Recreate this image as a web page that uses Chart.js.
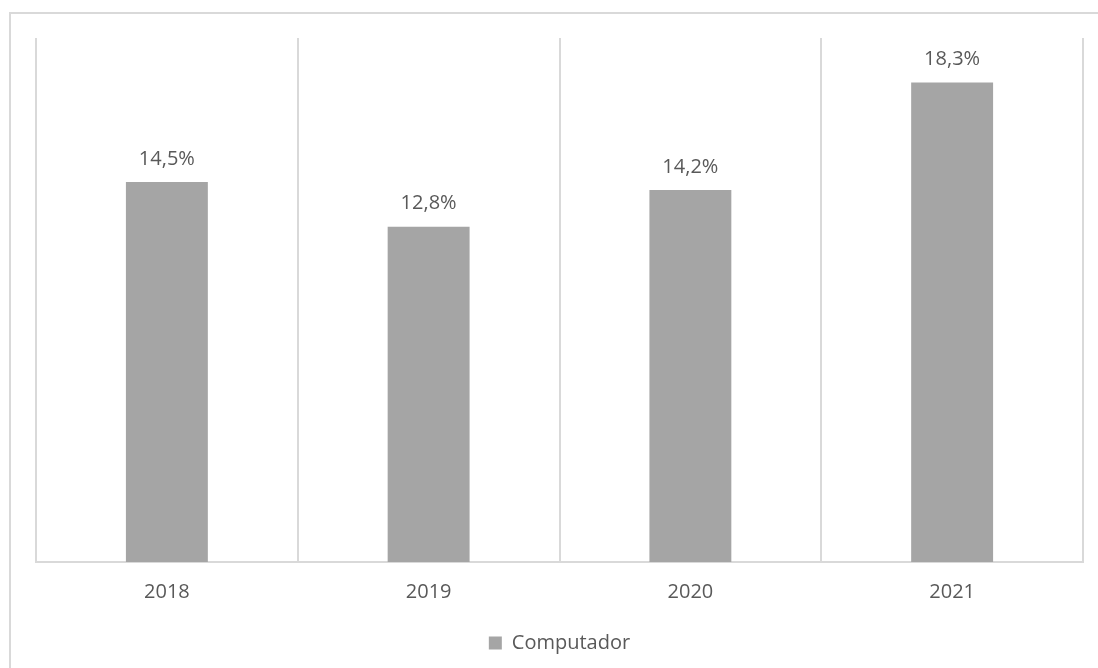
<!DOCTYPE html>
<html>
<head>
<meta charset="utf-8">
<script src="https://cdn.jsdelivr.net/npm/chart.js@4"></script>
<style>
  html, body { margin: 0; padding: 0; background: #fff; overflow: hidden; }
  #frame {
    position: absolute; left: 9px; top: 12px;
    width: 1200px; height: 800px;
    border: 2px solid #d9d9d9; box-sizing: border-box;
  }
  #wrap { position: absolute; left: 0; top: 0; width: 1098px; height: 668px; }
</style>
</head>
<body>
<div id="frame"></div>
<div id="wrap"><canvas id="chart"></canvas></div>
<script>
// ---- Data ----
const years  = ['2018', '2019', '2020', '2021'];
const values = [14.5, 12.8, 14.2, 18.3];
const seriesName = 'Computador';

const FONT = '"Open Sans", "Noto Sans", sans-serif';
const TEXT = '#595959';
const BAR  = '#a5a5a5';
const GRID = '#d9d9d9';

// ---- Value labels above bars (comma decimal) ----
const valueLabels = {
  id: 'valueLabels',
  afterDatasetsDraw(chart) {
    const ctx = chart.ctx;
    const meta = chart.getDatasetMeta(0);
    ctx.save();
    ctx.font = '20px ' + FONT;
    ctx.fillStyle = TEXT;
    ctx.textAlign = 'center';
    ctx.textBaseline = 'middle';
    meta.data.forEach((bar, i) => {
      const txt = values[i].toFixed(1).replace('.', ',') + '%';
      ctx.fillText(txt, bar.x, bar.y - 23);
    });
    ctx.restore();
  }
};

new Chart(document.getElementById('chart'), {
  type: 'bar',
  data: {
    labels: years,
    datasets: [{
      label: seriesName,
      data: values,
      backgroundColor: BAR,
      borderWidth: 0,
      categoryPercentage: 1,
      barPercentage: 0.313
    }]
  },
  options: {
    responsive: true,
    maintainAspectRatio: false,
    animation: false,
    layout: { padding: { left: 36, right: 15, top: 38, bottom: 5 } },
    plugins: {
      legend: {
        position: 'bottom',
        labels: {
          color: TEXT,
          font: { family: FONT, size: 20 },
          boxWidth: 13,
          boxHeight: 13,
          padding: 11
        }
      },
      tooltip: { enabled: false }
    },
    scales: {
      x: {
        grid: { color: GRID, lineWidth: 2, offset: true, drawTicks: false },
        border: { color: GRID, width: 2 },
        ticks: { color: TEXT, font: { family: FONT, size: 20 }, padding: 18 }
      },
      y: {
        display: false,
        min: 0,
        max: 20
      }
    }
  },
  plugins: [valueLabels]
});
</script>
</body>
</html>
